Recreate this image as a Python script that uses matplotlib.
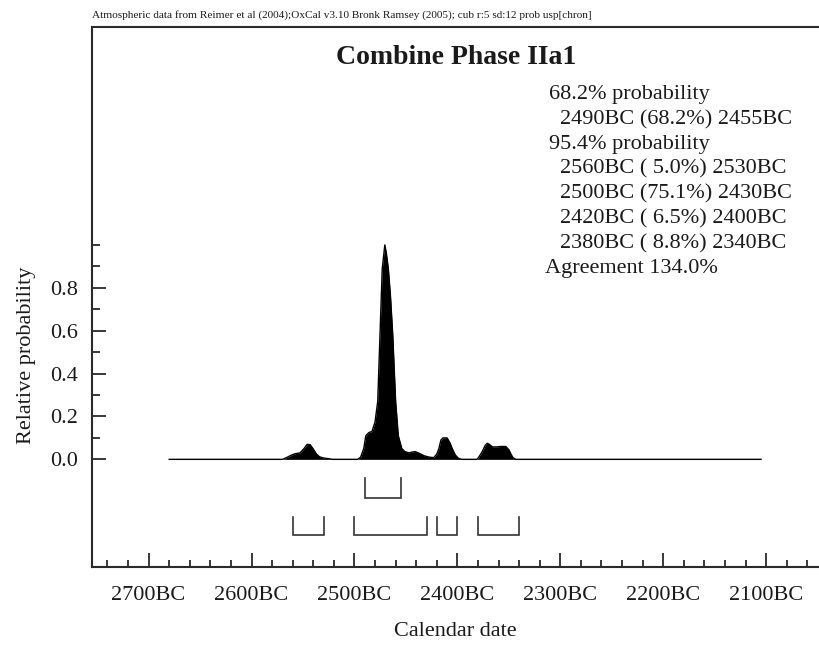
import matplotlib
matplotlib.use("Agg")
import matplotlib.pyplot as plt
from matplotlib.ticker import FixedLocator, FuncFormatter

# ---------------- data ----------------
years_bc = [2680, 2570, 2566, 2562, 2558, 2553, 2549, 2546, 2543, 2540, 2537, 2534,
            2530, 2525, 2521, 2497, 2494, 2491, 2489, 2486, 2483, 2480, 2477.4,
            2475.2, 2473, 2470.5, 2469, 2467.1, 2465, 2462.8, 2460, 2457.4, 2454,
            2451, 2447, 2444, 2441, 2437, 2432, 2427, 2423, 2420, 2418, 2416,
            2414, 2410, 2407, 2405, 2402, 2399, 2396, 2381, 2379, 2376, 2373,
            2371, 2369, 2366, 2362, 2358, 2353, 2350, 2348, 2346, 2343, 2105]
probability = [0, 0, 0.008, 0.018, 0.026, 0.03, 0.05, 0.07, 0.068, 0.048, 0.025, 0.012,
               0.006, 0.003, 0, 0, 0.01, 0.05, 0.11, 0.125, 0.13, 0.175, 0.27,
               0.58, 0.89, 1.0, 0.96, 0.89, 0.76, 0.58, 0.27, 0.11, 0.05,
               0.036, 0.03, 0.034, 0.036, 0.028, 0.016, 0.01, 0.008, 0.025, 0.05, 0.09,
               0.1, 0.1, 0.075, 0.05, 0.02, 0.005, 0, 0, 0.012, 0.035, 0.065,
               0.075, 0.07, 0.058, 0.058, 0.06, 0.06, 0.045, 0.025, 0.008, 0, 0]

ranges_68 = [(2490, 2455)]
ranges_95 = [(2560, 2530), (2500, 2430), (2420, 2400), (2380, 2340)]

x_major = [2700, 2600, 2500, 2400, 2300, 2200, 2100]
y_major = [0.0, 0.2, 0.4, 0.6, 0.8]
y_minor = [0.1, 0.3, 0.5, 0.7, 0.9, 1.0]

title = "Combine Phase IIa1"
header = ("Atmospheric data from Reimer et al (2004);OxCal v3.10 Bronk Ramsey (2005); "
          "cub r:5 sd:12 prob usp[chron]")
summary_lines = [
    ("68.2% probability", 0),
    ("2490BC (68.2%) 2455BC", 1),
    ("95.4% probability", 0),
    ("2560BC ( 5.0%) 2530BC", 1),
    ("2500BC (75.1%) 2430BC", 1),
    ("2420BC ( 6.5%) 2400BC", 1),
    ("2380BC ( 8.8%) 2340BC", 1),
    ("Agreement 134.0%", -1),
]

# ---------------- style ----------------
plt.rcParams['font.family'] = ['Liberation Serif', 'DejaVu Serif']
W, H = 820, 646
fig = plt.figure(figsize=(W / 100, H / 100), dpi=100)
ax = fig.add_axes([92 / W, 1 - 567 / H, 1 - 92 / W, (567 - 27) / H])

ink = '#1a1a1a'
ax.fill_between(years_bc, probability, 0, color='black', linewidth=0)
ax.plot(years_bc, probability, color='black', linewidth=1.0)

def bracket(a, b, top, bottom):
    ax.plot([a, a, b, b], [top, bottom, bottom, top], color='#333333',
            linewidth=1.2, solid_joinstyle='miter')

for a, b in ranges_68:
    bracket(a, b, -0.087, -0.180)
for a, b in ranges_95:
    bracket(a, b, -0.268, -0.352)

ax.set_xlim(2755.0, 2047.7)
ax.set_ylim(-0.502, 2.016)

ax.spines['right'].set_visible(False)
for side in ['left', 'bottom', 'top']:
    ax.spines[side].set_linewidth(1.5)
    ax.spines[side].set_color('#2a2a2a')

ax.xaxis.set_major_locator(FixedLocator(x_major))
ax.xaxis.set_minor_locator(FixedLocator([y for y in range(2740, 2040, -20) if y % 100]))
ax.xaxis.set_major_formatter(FuncFormatter(lambda v, p: f"{int(round(v))}BC"))
ax.yaxis.set_major_locator(FixedLocator(y_major))
ax.yaxis.set_minor_locator(FixedLocator(y_minor))
ax.yaxis.set_major_formatter(FuncFormatter(lambda v, p: f"{v:.1f}"))

ax.tick_params(axis='both', which='both', direction='in', colors='#2a2a2a',
               labelcolor=ink, width=1.3)
ax.tick_params(axis='x', which='major', length=10, pad=14, labelsize=16)
ax.tick_params(axis='x', which='minor', length=5)
ax.tick_params(axis='y', which='major', length=10, pad=10, labelsize=16)
ax.tick_params(axis='y', which='minor', length=6)

fig.text(455 / W, 1 - 631 / H, "Calendar date", ha='center', va='center',
         fontsize=16, color=ink)
fig.text(27 / W, 1 - 355 / H, "Relative probability", ha='center', va='center',
         rotation=90, fontsize=16, color=ink)
fig.text(456 / W, 1 - 57 / H, title, ha='center', va='center', fontsize=20,
         fontweight='bold', color=ink)
fig.text(92 / W, 1 - 15 / H, header, ha='left', va='center', fontsize=8.1, color=ink)

xs = {0: 549, 1: 560, -1: 545}
for i, (txt, ind) in enumerate(summary_lines):
    fig.text(xs[ind] / W, 1 - (95 + 24.75 * i) / H, txt, ha='left', va='center',
             fontsize=16, color=ink)

fig.savefig("out.png", dpi=100)
